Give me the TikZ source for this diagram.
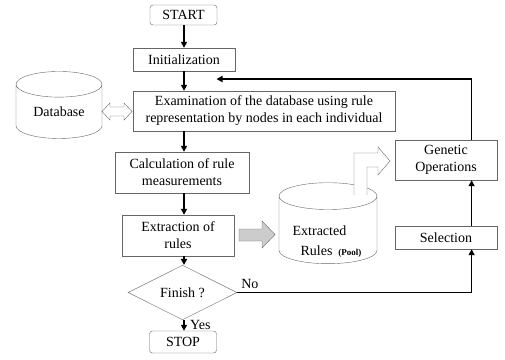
\documentclass[tikz,border=0pt]{standalone}
\usepackage{fontspec}
\setmainfont{Liberation Serif}
\usetikzlibrary{shapes.geometric,arrows.meta,calc}

\begin{document}
\begin{tikzpicture}[x=1pt,y=-1pt,
    box/.style={draw=black!60,fill=white,align=center,inner sep=0pt,
      font=\fontsize{14}{17}\selectfont},
    term/.style={box,rounded corners=3pt},
    store/.style={box,cylinder,shape border rotate=90,aspect=0.5},
    flow/.style={-{Triangle[length=6pt,width=6pt]},line width=1.5pt},
    tag/.style={font=\fontsize{14}{16}\selectfont},
    blockarrow/.style={draw=black!60,fill=white,line join=miter}]
    \useasboundingbox (0,0) rectangle (505,359);

    \node[term,minimum width=67,minimum height=20] (start) at (183.5,15) {START};
    \node[box,minimum width=102,minimum height=23] (init) at (184,59.5) {Initialization};
    \node[box,minimum width=262,minimum height=40] (exam) at (264,111) {Examination of the database using rule\\representation by nodes in each individual};
    \node[box,minimum width=134,minimum height=41] (calc) at (182,172.5) {Calculation of rule\\measurements};
    \node[box,minimum width=112,minimum height=41] (extr) at (178,235.5) {Extraction of\\rules};
    \node[box,diamond,minimum width=109,minimum height=31] (fin) at (182.5,292.5) {Finish ?};
    \node[term,minimum width=67,minimum height=22] (stop) at (183,342) {STOP};
    \node[box,minimum width=102,minimum height=40] (gen) at (446,160) {Genetic\\Operations};
    \node[box,minimum width=102,minimum height=23] (sel) at (446,237.5) {Selection};
    \node[store,minimum width=86,minimum height=67] (db) at (59,111.5) {Database};
    \node[store,minimum width=98,minimum height=81] (pool) at (328,230) {\phantom{Extracted}};
    \node[align=left,font=\fontsize{14}{20}\selectfont] (pooltxt) at (327,242) {Extracted\\\hspace{8pt}Rules \,{\fontsize{9}{9}\selectfont\bfseries(Pool)}};

    % block arrows
    \draw[blockarrow] (102,111.5)--(110,103)--(110,107)--(124,107)--(124,103)--(132,111.5)
        --(124,120)--(124,116)--(110,116)--(110,120)--cycle;
    \draw[blockarrow,fill=black!20] (239,229)--(262,229)--(262,221)--(275,234.5)--(262,248)
        --(262,241)--(239,241)--cycle;
    \draw[blockarrow] (354,195)--(354,153)--(378,153)--(378,147)--(390,161)--(378,175)
        --(378,167)--(367,167)--(367,195);

    % flow
    \coordinate (join) at ($(init.south)!0.4!(exam.north)$);
    \coordinate (turn) at ($(sel.south west)!0.75!(sel.south east)$);
    \draw[flow] (start.south -| init)--(init);
    \draw[flow] (init)--(init |- exam.north);
    \draw[flow] (exam.south -| init)--(init |- calc.north);
    \draw[flow] (calc.south -| init)--(init |- extr.north);
    \draw[flow] (extr.south -| init)--(init |- fin.north);
    \draw[flow] (fin.south -| init)--(init |- stop.north) node[midway,right,xshift=2pt,tag] {Yes};
    \draw[flow] (fin.east) -| (turn) node[pos=0,above right,tag] {No};
    \draw[flow] (sel.north -| turn)--(gen.south -| turn);
    \draw[flow,shorten >=0.5pt] (gen.north -| turn) |- (join);
\end{tikzpicture}
\end{document}
